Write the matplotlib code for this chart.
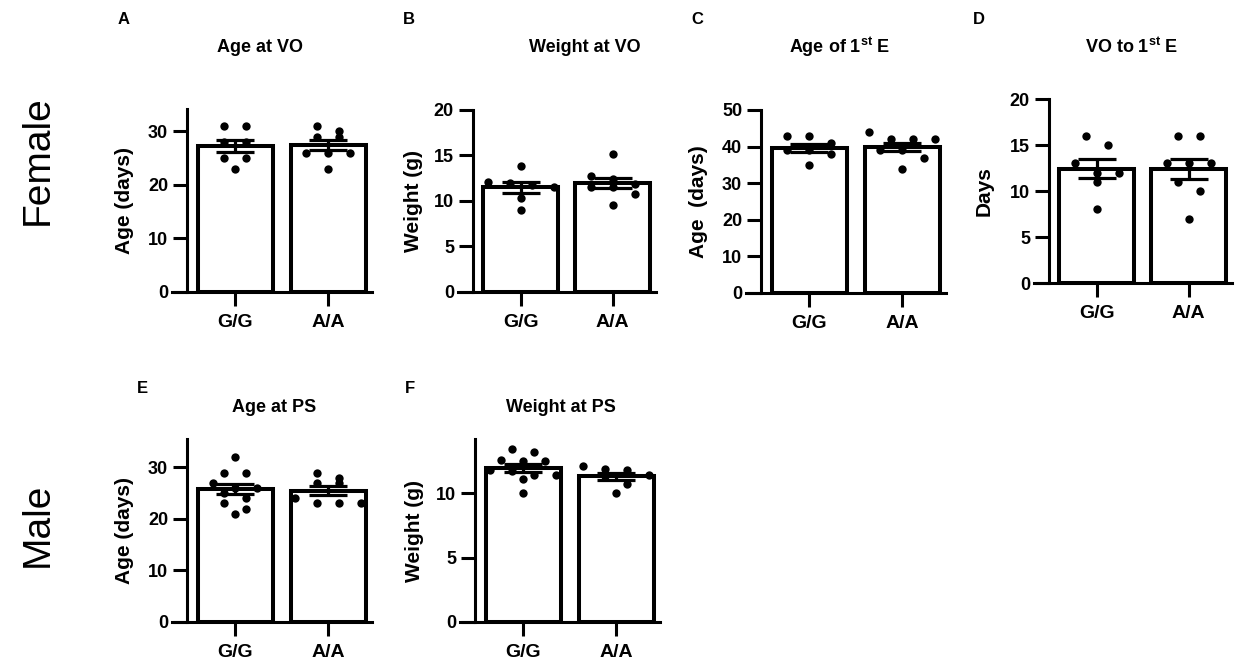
import numpy as np
import matplotlib.pyplot as plt

W, H = 1236, 664

plt.rcParams['font.family'] = ['Liberation Sans', 'DejaVu Sans']
plt.rcParams['mathtext.fontset'] = 'custom'
plt.rcParams['mathtext.rm'] = 'Liberation Sans'
plt.rcParams['mathtext.bf'] = 'Liberation Sans:bold'

groups = ['G/G', 'A/A']

# A - age at VO (days)
age_vo_gg = [31, 31, 28, 28, 25, 25, 23]
age_vo_aa = [31, 30, 29, 29, 26, 26, 26, 23]
# B - weight at VO (g)
weight_vo_gg = [13.9, 12.1, 12.0, 11.8, 11.5, 10.3, 9.0]
weight_vo_aa = [15.2, 12.8, 12.4, 11.9, 11.5, 11.5, 10.8, 9.6]
# C - age of first estrus (days)
age_1e_gg = [43, 43, 41, 39, 39, 38, 35]
age_1e_aa = [44, 42, 42, 42, 39, 39, 37, 34]
# D - VO to first estrus (days)
vo_1e_gg = [16, 15, 13, 12, 12, 11, 8]
vo_1e_aa = [16, 16, 13, 13, 13, 11, 10, 7]
# E - age at PS (days)
age_ps_gg = [32, 29, 29, 27, 26, 26, 25, 24, 23, 22, 21]
age_ps_aa = [29, 28, 27, 27, 24, 23, 23, 23]
# F - weight at PS (g)
weight_ps_gg = [13.4, 13.2, 12.6, 12.5, 12.5, 11.8, 11.7, 11.4, 11.4, 11.1, 10.0]
weight_ps_aa = [12.1, 11.9, 11.8, 11.4, 11.3, 10.7, 10.0]

XLIM = (-0.68, 1.47)
YAXIS_X = -0.52
BAR_W = 0.81


def swarm(vals, px_y, px_x, dot_gap=22, row_px=9.5, max_row=4):
    """GraphPad-like scatter: rows of nearby values spread symmetrically."""
    order = np.argsort(vals, kind='stable')[::-1]
    offs = np.zeros(len(vals))
    rows = []
    for i in order:
        if (rows and len(rows[-1]) < max_row
                and (vals[rows[-1][0]] - vals[i]) * px_y < row_px):
            rows[-1].append(i)
        else:
            rows.append([i])
    for r in rows:
        n = len(r)
        for k, i in enumerate(r):
            offs[i] = (k - (n - 1) / 2) * dot_gap / px_x
    return offs


def panel(box, ymax, yticks, gg, aa, ylabel, ylab_x, title, title_x, title_y,
          letter, letter_xy):
    x0, y0, x1, y1 = box  # pixels: left, top, right, bottom
    ax = fig.add_axes([x0 / W, 1 - y1 / H, (x1 - x0) / W, (y1 - y0) / H])
    ax.set_xlim(*XLIM)
    ax.set_ylim(0, ymax)
    px_y = (y1 - y0) / ymax
    px_x = (x1 - x0) / (XLIM[1] - XLIM[0])

    for i, vals in enumerate([gg, aa]):
        vals = np.array(vals, dtype=float)
        m = vals.mean()
        sem = vals.std(ddof=1) / np.sqrt(len(vals))
        ax.bar(i, m, width=BAR_W, color='white', edgecolor='black',
               linewidth=2.9, zorder=2)
        xs = i + swarm(vals, px_y, px_x)
        ax.scatter(xs, vals, s=36, color='black', zorder=3, clip_on=False,
                   linewidths=0)
        ax.errorbar(i, m, yerr=sem, fmt='none', ecolor='black',
                    elinewidth=2.3, capsize=14, capthick=2.3, zorder=4)

    for s in ['top', 'right']:
        ax.spines[s].set_visible(False)
    ax.spines['left'].set_position(('data', YAXIS_X))
    ax.spines['left'].set_linewidth(2.2)
    ax.spines['bottom'].set_linewidth(2.2)
    ax.set_xticks([0, 1])
    ax.set_xticklabels(groups, fontsize=14, fontweight='bold')
    ax.set_yticks(yticks)
    ax.set_yticklabels([str(t) for t in yticks], fontsize=13, fontweight='bold')
    ax.tick_params(axis='both', length=10, width=2.2)
    ax.tick_params(axis='x', pad=6)
    ax.tick_params(axis='y', pad=3.5)

    ax.set_ylabel(ylabel, fontsize=15, fontweight='bold')
    ax.yaxis.set_label_coords((ylab_x - x0) / (x1 - x0), 0.5)

    fig.text(title_x / W, 1 - title_y / H, title, fontsize=13,
             fontweight='bold', ha='center', va='center')
    fig.text(letter_xy[0] / W, 1 - letter_xy[1] / H, letter, fontsize=12,
             fontweight='bold', ha='center', va='center')
    return ax


fig = plt.figure(figsize=(W / 100, H / 100), dpi=100)

panel((172, 109, 372, 292), 34.2, [0, 10, 20, 30], age_vo_gg, age_vo_aa,
      'Age (days)', 134, 'Age at VO', 260, 47, 'A', (124, 19))
panel((458, 110, 656, 292), 20, [0, 5, 10, 15, 20], weight_vo_gg, weight_vo_aa,
      'Weight (g)', 423, 'Weight at VO', 585, 47, 'B', (409, 19))
panel((746, 110, 946, 293), 50, [0, 10, 20, 30, 40, 50], age_1e_gg, age_1e_aa,
      'Age  (days)', 708, r'Age of 1$^{\mathbf{st}}$ E', 840, 47, 'C', (697, 19))
panel((1034, 99, 1232, 283), 20, [0, 5, 10, 15, 20], vo_1e_gg, vo_1e_aa,
      'Days', 994, r'VO to 1$^{\mathbf{st}}$ E', 1132, 47, 'D', (979, 19))
panel((172, 439, 372, 622), 35.5, [0, 10, 20, 30], age_ps_gg, age_ps_aa,
      'Age (days)', 134, 'Age at PS', 274, 408, 'E', (142, 388))
panel((460, 439, 660, 622), 14.2, [0, 5, 10], weight_ps_gg, weight_ps_aa,
      'Weight (g)', 424, 'Weight at PS', 561, 408, 'F', (410, 388))

fig.text(38 / W, 1 - 160 / H, 'Female', rotation=90, fontsize=28,
         ha='center', va='center')
fig.text(38 / W, 1 - 525 / H, 'Male', rotation=90, fontsize=28,
         ha='center', va='center')

fig.savefig('out.png', dpi=100)
